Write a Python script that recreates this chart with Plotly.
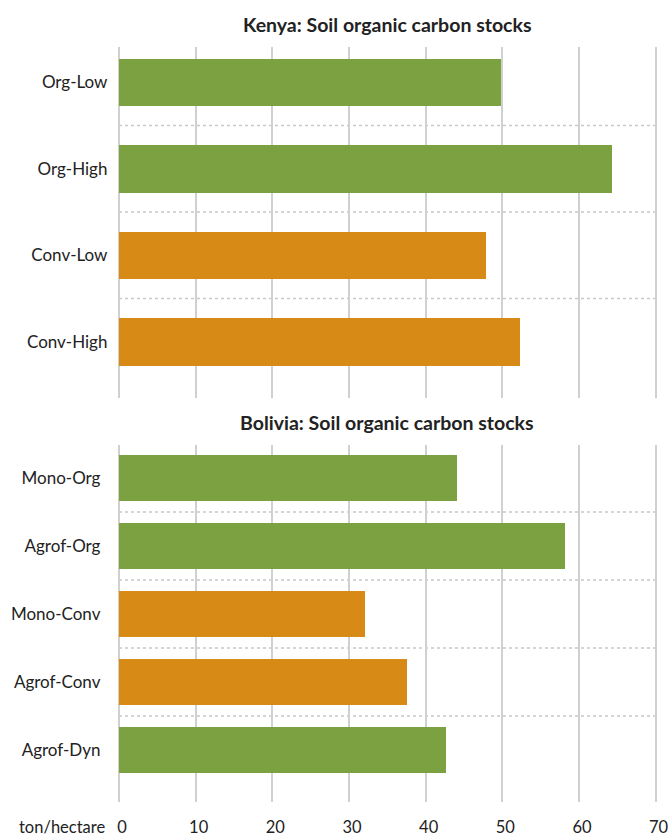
import plotly.graph_objects as go

kenya_categories = ["Org-Low", "Org-High", "Conv-Low", "Conv-High"]
kenya_values = [49.9, 64.4, 48.0, 52.4]
kenya_groups = ["Org", "Org", "Conv", "Conv"]

bolivia_categories = ["Mono-Org", "Agrof-Org", "Mono-Conv", "Agrof-Conv", "Agrof-Dyn"]
bolivia_values = [44.1, 58.3, 32.1, 37.6, 42.7]
bolivia_groups = ["Org", "Org", "Conv", "Conv", "Org"]

x_ticks = [0, 10, 20, 30, 40, 50, 60, 70]
x_unit = "ton/hectare"
kenya_title = "Kenya: Soil organic carbon stocks"
bolivia_title = "Bolivia: Soil organic carbon stocks"

COLORS = {"Org": "#7BA141", "Conv": "#D88A16"}
FONT = "Lato"
TXT = "#222222"
GRID = "#D0D0D0"
LBL = 17

# body margin is removed via post_script, so the figure fills the 670x837 window
W, H = 670, 837


def px_x(v):
    return v / W


def px_y(v):
    return 1 - v / H


fig = go.Figure()

fig.add_trace(go.Bar(
    x=kenya_values, y=kenya_categories, orientation="h",
    marker=dict(color=[COLORS[g] for g in kenya_groups], line=dict(width=0)),
    width=0.55, xaxis="x2", yaxis="y2", showlegend=False, hoverinfo="x+y",
))
fig.add_trace(go.Bar(
    x=bolivia_values, y=bolivia_categories, orientation="h",
    marker=dict(color=[COLORS[g] for g in bolivia_groups], line=dict(width=0)),
    width=0.68, xaxis="x", yaxis="y", showlegend=False, hoverinfo="x+y",
))

pad = 0.2
ppu = (655.6 - 119) / 70
xd = [px_x(119 - pad * ppu), px_x(655.6 + pad * ppu)]

axis_x_common = dict(
    range=[-pad, 70 + pad], tickvals=x_ticks, showgrid=True, gridcolor=GRID, gridwidth=2,
    zeroline=False, showline=False, ticks="", domain=xd, fixedrange=True, automargin=False,
)

fig.update_layout(
    width=W, height=H,
    margin=dict(l=0, r=0, t=0, b=0),
    paper_bgcolor="white", plot_bgcolor="white",
    font=dict(family=FONT, size=LBL, color=TXT),
    bargap=0,
    xaxis=dict(**axis_x_common, anchor="y", showticklabels=True,
               tickfont=dict(family=FONT, size=16.5, color=TXT),
               ticklabelstandoff=13, ticklabelshift=3),
    yaxis=dict(domain=[px_y(802), px_y(445)], anchor="x",
               categoryorder="array", categoryarray=bolivia_categories,
               range=[4.765, -0.485], showgrid=False, zeroline=False, ticks="",
               tickfont=dict(family=FONT, size=LBL, color=TXT), ticklabelstandoff=16,
               fixedrange=True, automargin=False),
    xaxis2=dict(**axis_x_common, anchor="y2", showticklabels=False),
    yaxis2=dict(domain=[px_y(398), px_y(46.7)], anchor="x2",
                categoryorder="array", categoryarray=kenya_categories,
                range=[3.65, -0.411], showgrid=False, zeroline=False, ticks="",
                tickfont=dict(family=FONT, size=LBL, color=TXT), ticklabelstandoff=9,
                fixedrange=True, automargin=False),
)

shapes = []
for i in range(len(kenya_categories) - 1):
    shapes.append(dict(type="line", xref="x2", yref="y2", x0=0, x1=70.2,
                       y0=i + 0.5, y1=i + 0.5,
                       line=dict(color="#C8C8C8", width=1.5, dash="dot"), layer="below"))
for i in range(len(bolivia_categories) - 1):
    shapes.append(dict(type="line", xref="x", yref="y", x0=0, x1=70.2,
                       y0=i + 0.5, y1=i + 0.5,
                       line=dict(color="#C8C8C8", width=1.5, dash="dot"), layer="below"))
fig.update_layout(shapes=shapes)

annotations = [
    dict(text="<b>" + kenya_title + "</b>", xref="x2 domain", yref="paper",
         x=0.5, y=px_y(25), xanchor="center", yanchor="middle", showarrow=False,
         font=dict(family=FONT, size=19.5, color=TXT)),
    dict(text="<b>" + bolivia_title + "</b>", xref="x domain", yref="paper",
         x=0.5, y=px_y(422.5), xanchor="center", yanchor="middle", showarrow=False,
         font=dict(family=FONT, size=19.5, color=TXT)),
    dict(text=x_unit, xref="x", yref="paper", x=0, y=px_y(827),
         xanchor="right", yanchor="middle", xshift=-12, showarrow=False,
         font=dict(family=FONT, size=16.5, color=TXT)),
]
fig.update_layout(annotations=annotations)

fig.write_html(
    "out.html",
    config={"displayModeBar": False},
    post_script="document.body.style.margin='0';document.body.style.overflow='hidden';",
)
